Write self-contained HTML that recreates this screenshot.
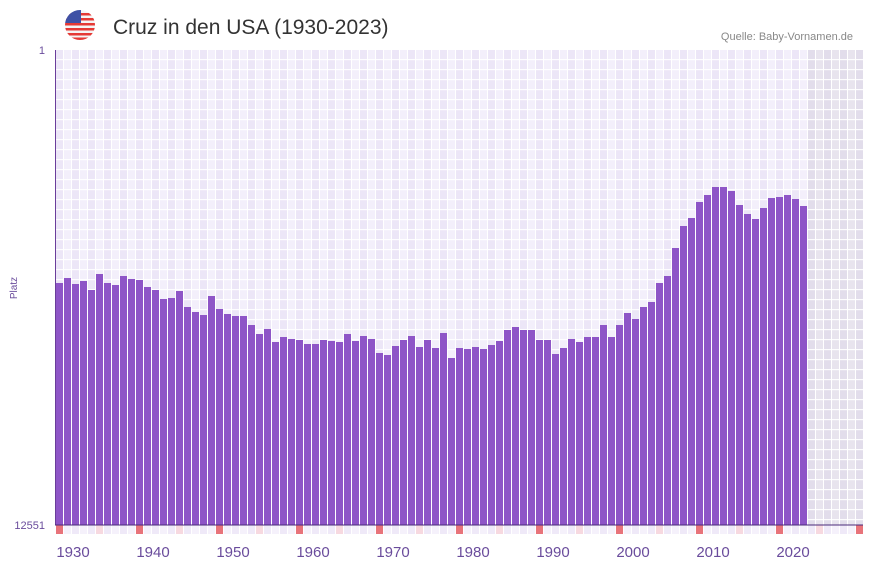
<!DOCTYPE html>
<html><head><meta charset="utf-8"><style>
body{margin:0;background:#fff;width:873px;height:567px;overflow:hidden;font-family:"Liberation Sans",sans-serif}
</style></head><body>
<svg id="s" width="873" height="567" xmlns="http://www.w3.org/2000/svg">
<defs><clipPath id="fc"><circle cx="80" cy="25" r="15"/></clipPath></defs>
<g clip-path="url(#fc)">
<rect x="65" y="10" width="30" height="30" fill="#f4f4f4"/>
<rect x="65" y="13" width="30" height="2.5" fill="#e53935"/>
<rect x="65" y="18" width="30" height="2.5" fill="#e53935"/>
<rect x="65" y="23" width="30" height="2.5" fill="#e53935"/>
<rect x="65" y="28" width="30" height="2.5" fill="#e53935"/>
<rect x="65" y="33" width="30" height="2.5" fill="#e53935"/>
<rect x="65" y="37.5" width="30" height="2.5" fill="#e53935"/>
<rect x="65" y="10" width="16" height="13" fill="#3f51a5"/>
</g>
<text x="113" y="34" font-size="21" fill="#333">Cruz in den USA (1930-2023)</text>
<text x="853" y="40" font-size="11" fill="#888" text-anchor="end">Quelle: Baby-Vornamen.de</text>
<g id="g"></g>
<line x1="55.5" y1="50" x2="55.5" y2="525" stroke="#6a3d9a" stroke-width="1"/>
<line x1="55" y1="525" x2="863" y2="525" stroke="#4a2a7a" stroke-width="1"/>
<text x="45" y="54" font-size="11" fill="#6a4c9c" text-anchor="end">1</text>
<text x="45" y="529" font-size="11" fill="#6a4c9c" text-anchor="end">12551</text>
<text transform="translate(17,288) rotate(-90)" font-size="10" fill="#6a4c9c" text-anchor="middle">Platz</text>
</svg>
<script>
var g=document.getElementById('g'),h='';
var tops=[283,278,284,281,290,274,283,285,276,279,280,287,290,299,298,291,307,312,315,296,309,314,316,316,325,334,329,342,337,339,340,344,344,340,341,342,334,341,336,339,353,355,346,340,336,347,340,348,333,358,348,349,347,349,345,341,330,327,330,330,340,340,354,348,339,342,337,337,325,337,325,313,319,307,302,283,276,248,226,218,202,195,187,187,191,205,214,219,208,198,197,195,199,206];
for(var i=0;i<101;i++){var x=56+i*8;var grey=x>=808;
var c=grey?(i%2?'#e8e4ee':'#e2ddeb'):(i%2?'#f3effb':'#ece6f7');
h+='<rect x="'+x+'" y="50" width="7" height="475" fill="'+c+'"/>';
var y=i+1930;var mc=(y%10==0)?'#e8737a':(y%5==0)?'#f7d9e0':(i%2?'#f5f1fb':'#efe9f8');
h+='<rect x="'+x+'" y="525" width="7" height="9" fill="'+mc+'"/>';}
for(var yy=60;yy<525;yy+=10)h+='<rect x="56" y="'+(yy-1)+'" width="807" height="1.2" fill="#fff" opacity="0.9"/>';
for(var i=0;i<tops.length;i++){var x=56+i*8;h+='<rect x="'+x+'" y="'+tops[i]+'" width="7" height="'+(525-tops[i])+'" fill="#8e55c7"/>';}
for(var d=0;d<10;d++){h+='<text x="'+(73+d*80)+'" y="557" font-size="15" fill="#6a4c9c" text-anchor="middle">'+(1930+d*10)+'</text>';}
g.innerHTML=h;
</script>
</body></html>
